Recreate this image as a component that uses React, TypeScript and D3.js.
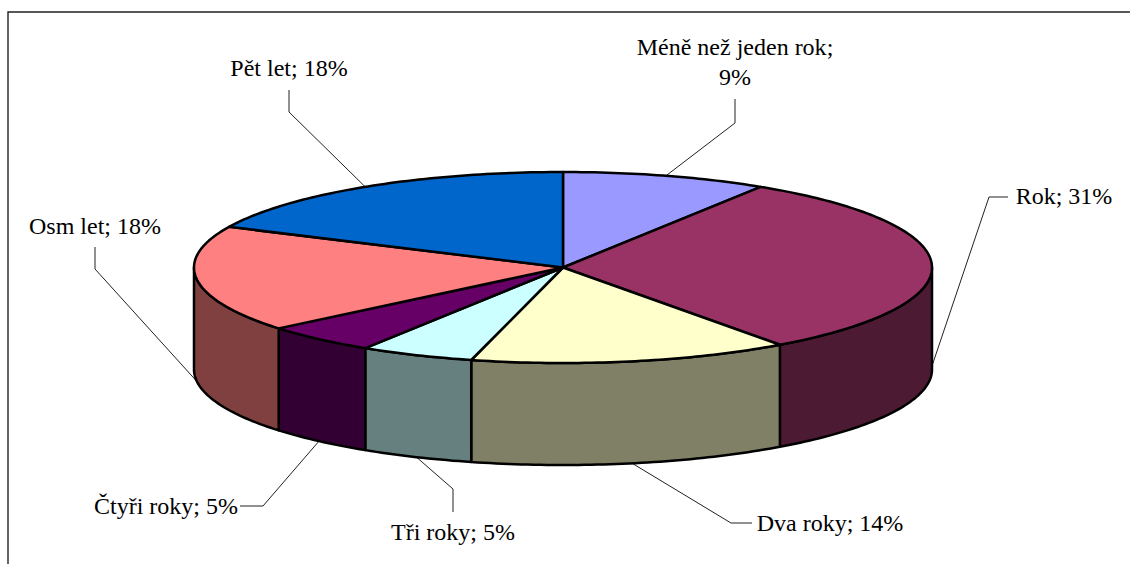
import React from "react";
import * as d3 from "d3";

const categories = ["Méně než jeden rok", "Rok", "Dva roky", "Tři roky", "Čtyři roky", "Osm let", "Pět let"];
const shares = [9, 31, 14, 5, 5, 18, 18];
const topColors = ["#9999FF", "#993366", "#FFFFCC", "#CCFFFF", "#660066", "#FF8080", "#0066CC"];
const sideColors = ["#4D4D80", "#4D1A33", "#808066", "#668080", "#330033", "#804040", "#003366"];

// Label placement: [text x, baseline y], then the elbow points of each leader line.
const labelAt: [number, number][] = [[735, 55], [1064, 204], [830, 531], [453, 540], [166, 514], [95, 234], [289, 76]];
const leaderRuns: [number, number][][] = [
  [[735, 99], [735, 123]],
  [[1008, 197], [989, 197]],
  [[752, 523], [731, 523]],
  [[453, 512], [453, 489]],
  [[240, 506], [263, 506]],
  [[95, 247], [95, 269]],
  [[289, 90], [289, 112]],
];

const W = 1130;
const H = 564;
const cx = 563;
const cy = 267.5;
const rx = 369;
const ry = 95.5;
const depth = 102;
const TAU = Math.PI * 2;

const onRim = (a: number, drop = 0): [number, number] => [cx + rx * Math.sin(a), cy - ry * Math.cos(a) + drop];
const rimLine = d3.line();

// Samples the rim between two angles, clockwise from twelve o'clock.
const rimPoints = (a0: number, a1: number, drop = 0): [number, number][] => {
  const n = Math.max(2, Math.ceil(((a1 - a0) / TAU) * 360));
  return d3.range(n + 1).map((i) => onRim(a0 + ((a1 - a0) * i) / n, drop));
};

export default function App() {
  const arcs = d3.pie<number>().sort(null).value((d) => d)(shares);

  const sides = arcs
    .map((s, i) => ({ a0: Math.max(s.startAngle, TAU / 4), a1: Math.min(s.endAngle, (TAU * 3) / 4), i }))
    .filter((s) => s.a1 > s.a0);

  return (
    <svg width={W} height={H} style={{ position: "absolute", left: 0, top: 0, display: "block" }}>
      <rect width={W} height={H} fill="#fff" />
      <path d={`M8 ${H}V12H${W}`} fill="none" stroke="#222" strokeWidth={1.4} />

      {arcs.map((s, i) => {
        const mid = (s.startAngle + s.endAngle) / 2;
        const onTopFace = Math.cos(mid) > 0.5;
        const anchor = onRim(mid, onTopFace ? 0 : depth);
        return (
          <path
            key={categories[i]}
            d={rimLine([...leaderRuns[i], anchor]) ?? ""}
            fill="none"
            stroke="#222"
            strokeWidth={1}
          />
        );
      })}

      {sides.map(({ a0, a1, i }) => (
        <path
          key={categories[i]}
          d={(rimLine([...rimPoints(a0, a1), ...rimPoints(a0, a1, depth).reverse()]) ?? "") + "Z"}
          fill={sideColors[i]}
          stroke="#000"
          strokeWidth={2.5}
          strokeLinejoin="round"
        />
      ))}

      {arcs.map((s, i) => (
        <path
          key={categories[i]}
          d={(rimLine([[cx, cy], ...rimPoints(s.startAngle, s.endAngle)]) ?? "") + "Z"}
          fill={topColors[i]}
          stroke="#000"
          strokeWidth={2.5}
          strokeLinejoin="round"
        />
      ))}

      {categories.map((c, i) => {
        const [x, y] = labelAt[i];
        const wraps = c.length > 12;
        return (
          <text key={c} x={x} y={y} textAnchor="middle" fontFamily="'Liberation Serif'" fontSize={24} fill="#000">
            {wraps ? (
              <>
                <tspan x={x}>{c};</tspan>
                <tspan x={x} dy={30}>{shares[i]}%</tspan>
              </>
            ) : (
              `${c}; ${shares[i]}%`
            )}
          </text>
        );
      })}
    </svg>
  );
}
